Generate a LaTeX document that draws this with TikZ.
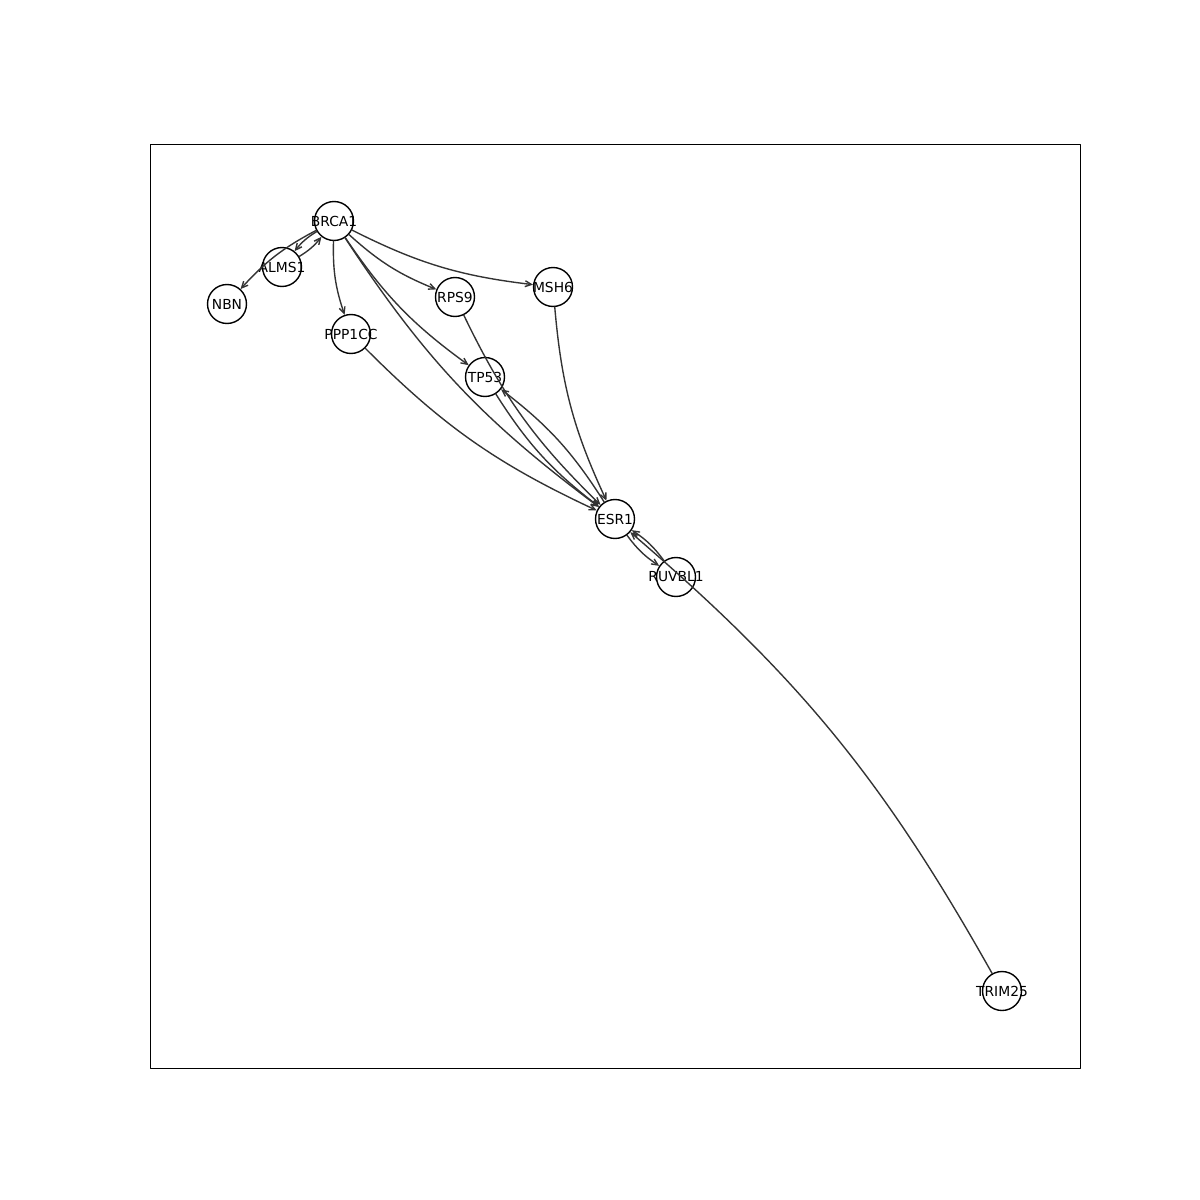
\documentclass[tikz,border=0pt]{standalone}
\usepackage{fontspec}
\setmainfont{DejaVu Sans}
\usepackage{tikz}
\usetikzlibrary{arrows.meta}

\tikzset{
gene/.style={circle,draw=black,fill=white,line width=1pt,minimum size=9.9mm,inner sep=0pt},
link/.style={-{Straight Barb[length=1.6mm,width=1.5mm]},line width=1pt,draw=black!80,bend right=10}
}

\begin{document}
\begin{tikzpicture}[x=0.254mm,y=-0.254mm,line cap=round,line join=round,font=\fontsize{10}{12}\selectfont]
\useasboundingbox (0,0) rectangle (1200,1200);
\draw[line width=0.6pt] (150,144) rectangle (1080,1068);
\node[gene,label={center:BRCA1}] (BRCA1) at (334,221) {};
\node[gene,label={center:ALMS1}] (ALMS1) at (282,267) {};
\node[gene,label={center:NBN}] (NBN) at (227,304) {};
\node[gene,label={center:PPP1CC}] (PPP1CC) at (351,334) {};
\node[gene,label={center:RPS9}] (RPS9) at (455,297) {};
\node[gene,label={center:MSH6}] (MSH6) at (553,287) {};
\node[gene,label={center:TP53}] (TP53) at (485,377) {};
\node[gene,label={center:ESR1}] (ESR1) at (615,519) {};
\node[gene,label={center:RUVBL1}] (RUVBL1) at (676,577) {};
\node[gene,label={center:TRIM25}] (TRIM25) at (1002,991) {};
\draw[link] (BRCA1) to (ALMS1);
\draw[link] (ALMS1) to (BRCA1);
\draw[link] (BRCA1) to (NBN);
\draw[link] (BRCA1) to (PPP1CC);
\draw[link] (BRCA1) to (RPS9);
\draw[link] (BRCA1) to (MSH6);
\draw[link] (BRCA1) to (TP53);
\draw[link] (BRCA1) to (ESR1);
\draw[link] (PPP1CC) to (ESR1);
\draw[link] (RPS9) to (ESR1);
\draw[link] (MSH6) to (ESR1);
\draw[link] (TP53) to (ESR1);
\draw[link] (ESR1) to (TP53);
\draw[link] (ESR1) to (RUVBL1);
\draw[link] (RUVBL1) to (ESR1);
\draw[link] (TRIM25) to (ESR1);
\end{tikzpicture}
\end{document}
